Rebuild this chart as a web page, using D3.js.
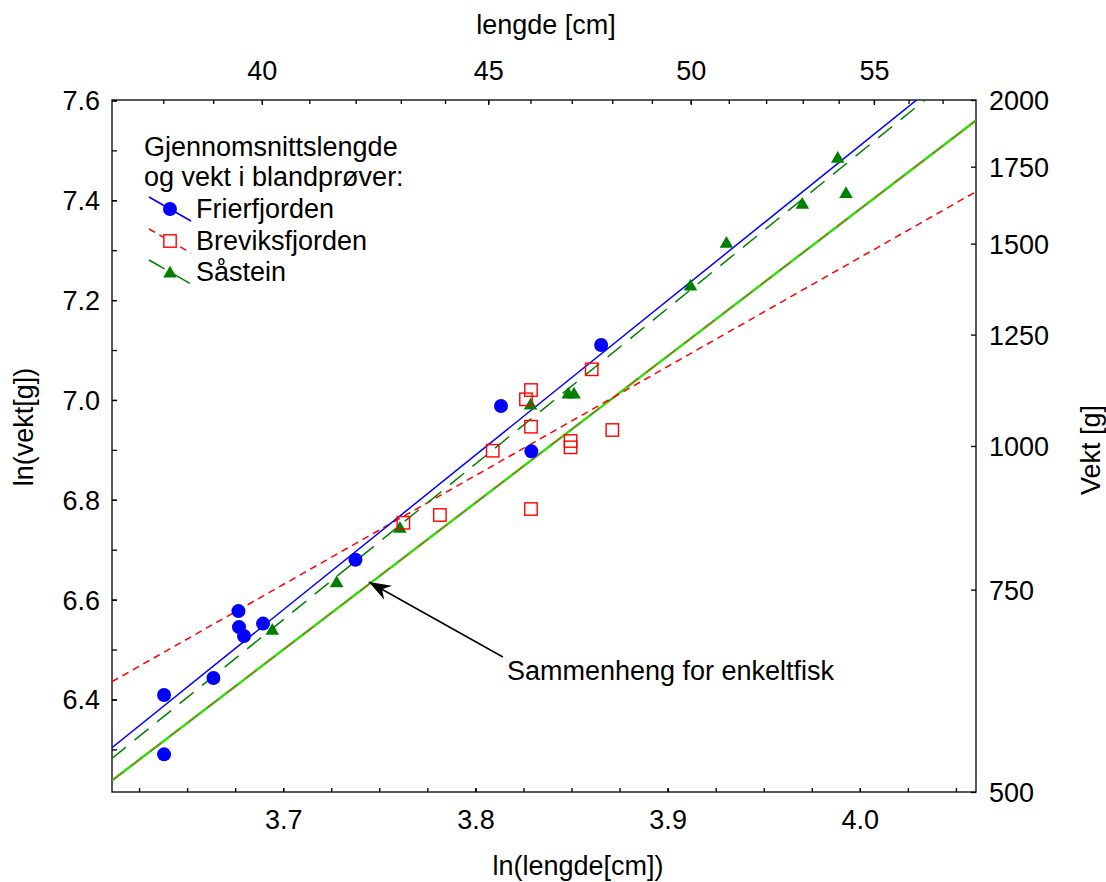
<!DOCTYPE html>
<html><head><meta charset="utf-8">
<script src="https://cdn.jsdelivr.net/npm/d3@7"></script>
<style>
body{margin:0;background:#fff;}
svg{display:block;font-family:"Liberation Sans",Arial,Helvetica,sans-serif;}
</style></head><body>
<svg id="chart" width="1106" height="882"></svg>
<script>
// ---- data (ln(length cm), ln(weight g)) ----
const frierLnL = [3.6380, 3.6380, 3.6637, 3.6767, 3.6770, 3.6796, 3.6895, 3.7376, 3.8133, 3.8291, 3.8654];
const frierLnW = [6.4090, 6.2900, 6.4430, 6.5770, 6.5450, 6.5270, 6.5520, 6.6800, 6.9880, 6.8970, 7.1100];
const brevLnL  = [3.7625, 3.7815, 3.8090, 3.8263, 3.8289, 3.8289, 3.8289, 3.8495, 3.8495, 3.8605, 3.8712];
const brevLnW  = [6.7540, 6.7695, 6.8983, 7.0013, 7.0199, 6.9464, 6.7815, 6.9178, 6.9051, 7.0614, 6.9398];
const saasLnL  = [3.6943, 3.7278, 3.7607, 3.8287, 3.8483, 3.8513, 3.9119, 3.9306, 3.9701, 3.9885, 3.9928];
const saasLnW  = [6.5405, 6.6359, 6.7449, 6.9919, 7.0139, 7.0139, 7.2303, 7.3158, 7.3939, 7.4861, 7.4152];
// fitted lines, evaluated at the two ends of the x range
const fitLnL    = [3.6109, 4.0604];
const frierFit  = [6.3033, 7.6966];
const brevFit   = [6.4356, 7.4172];
const saasFit   = [6.2819, 7.6838];
const singleFit = [6.2376, 7.5598];
// axis ticks
const bottomTicks  = [3.625,3.65,3.675,3.7,3.725,3.75,3.775,3.8,3.825,3.85,3.875,3.9,3.925,3.95,3.975,4.0,4.025,4.05];
const bottomLabels = [3.7,3.8,3.9,4.0];
const leftTicks    = [6.3,6.4,6.5,6.6,6.7,6.8,6.9,7.0,7.1,7.2,7.3,7.4,7.5,7.6];
const leftLabels   = [6.4,6.6,6.8,7.0,7.2,7.4,7.6];
const topTicks     = [38,39,40,41,42,43,44,45,46,47,48,49,50,51,52,53,54,55,56,57];
const topLabels    = [40,45,50,55];
const rightTicks   = [500,750,1000,1250,1500,1750,2000];
// annotation (data coordinates)
const arrowTip  = [3.7446, 6.6353];
const arrowTail = [3.8143, 6.4850];
const annoPos   = [3.8164, 6.4390];
const annoText  = "Sammenheng for enkeltfisk";

const L=112, R=976, T=100, B=792, FS=27;
const svg = d3.select("#chart");
const x = d3.scaleLinear().domain([Math.log(37), Math.log(58)]).range([L,R]);
const y = d3.scaleLinear().domain([Math.log(500), Math.log(2000)]).range([B,T]);
const xTop = d3.scaleLog().domain([37,58]).range([L,R]);
const yRight = d3.scaleLog().domain([500,2000]).range([B,T]);

function style(g){
  g.select(".domain").remove();
  g.selectAll("line").attr("stroke","#000").attr("stroke-width",1.3);
  g.selectAll("text").attr("font-size",FS).attr("fill","#000")
    .attr("font-family",'"Liberation Sans",Arial,Helvetica,sans-serif');
}
// bottom
svg.append("g").attr("transform",`translate(0,${B})`)
  .call(d3.axisBottom(x).tickValues(bottomTicks).tickSize(-4).tickFormat("")).call(style);
svg.append("g").attr("transform",`translate(0,${B})`)
  .call(d3.axisBottom(x).tickValues(bottomLabels).tickSize(-4).tickFormat(d3.format(".1f"))).call(style)
  .selectAll("text").attr("y",37).attr("dy",null);
// top
svg.append("g").attr("transform",`translate(0,${T})`)
  .call(d3.axisTop(xTop).tickValues(topTicks).tickSize(-4).tickFormat("")).call(style);
svg.append("g").attr("transform",`translate(0,${T})`)
  .call(d3.axisTop(xTop).tickValues(topLabels).tickSize(-5).tickFormat(d3.format("d"))).call(style)
  .selectAll("text").attr("y",-20).attr("dy",null);
// left
svg.append("g").attr("transform",`translate(${L},0)`)
  .call(d3.axisLeft(y).tickValues(leftTicks).tickSize(-5).tickFormat("")).call(style);
svg.append("g").attr("transform",`translate(${L},0)`)
  .call(d3.axisLeft(y).tickValues(leftLabels).tickSize(-5).tickFormat(d3.format(".1f"))).call(style)
  .selectAll("text").attr("x",-12).attr("dy","0.35em");
// right
svg.append("g").attr("transform",`translate(${R},0)`)
  .call(d3.axisRight(yRight).tickValues(rightTicks).tickSize(-5).tickFormat(d3.format("d"))).call(style)
  .selectAll("text").attr("x",13).attr("dy","0.35em");

// frame
svg.append("rect").attr("x",L).attr("y",T).attr("width",R-L).attr("height",B-T)
  .attr("fill","none").attr("stroke","#000").attr("stroke-width",1.3);

// axis titles
const tf = (sel)=>sel.attr("font-size",FS).attr("fill","#000");
tf(svg.append("text").attr("x",546).attr("y",34).attr("text-anchor","middle").text("lengde [cm]"));
tf(svg.append("text").attr("x",578).attr("y",875).attr("text-anchor","middle").text("ln(lengde[cm])"));
tf(svg.append("text").attr("transform","translate(33,427) rotate(-90)").attr("text-anchor","middle").text("ln(vekt[g])"));
tf(svg.append("text").attr("transform","translate(1100,450) rotate(-90)").attr("text-anchor","middle").text("Vekt [g]"));

// clip
svg.append("clipPath").attr("id","plotclip").append("rect")
  .attr("x",L).attr("y",T).attr("width",R-L).attr("height",B-T);
const plot = svg.append("g").attr("clip-path","url(#plotclip)");

const line = d3.line().x(d=>x(d[0])).y(d=>y(d[1]));
const pts = (xs,ys)=>xs.map((v,i)=>[v,ys[i]]);

plot.append("path").attr("d",line(pts(fitLnL,singleFit))).attr("fill","none")
  .attr("stroke","#2ee000").attr("stroke-width",2.4);
plot.append("path").attr("d",line(pts(fitLnL,singleFit))).attr("fill","none")
  .attr("stroke","#8b7a2e").attr("stroke-width",1.4).attr("stroke-dasharray","14,10");
plot.append("path").attr("d",line(pts(fitLnL,brevFit))).attr("fill","none")
  .attr("stroke","#ff0000").attr("stroke-width",1.5).attr("stroke-dasharray","7,5");
plot.append("path").attr("d",line(pts(fitLnL,saasFit))).attr("fill","none")
  .attr("stroke","#008000").attr("stroke-width",1.5).attr("stroke-dasharray","18,11");
plot.append("path").attr("d",line(pts(fitLnL,frierFit))).attr("fill","none")
  .attr("stroke","#0000ff").attr("stroke-width",1.5);

// markers
const tri = d3.symbol(d3.symbolTriangle, 80);
plot.selectAll("path.saas").data(pts(saasLnL,saasLnW)).join("path").attr("class","saas")
  .attr("d",tri).attr("fill","#008000")
  .attr("transform",d=>`translate(${x(d[0])},${y(d[1])+1.5})`);
plot.selectAll("rect.brev").data(pts(brevLnL,brevLnW)).join("rect").attr("class","brev")
  .attr("x",d=>x(d[0])-6.2).attr("y",d=>y(d[1])-6.2).attr("width",12.4).attr("height",12.4)
  .attr("fill","none").attr("stroke","#ff0000").attr("stroke-width",1.4);
plot.selectAll("circle.frier").data(pts(frierLnL,frierLnW)).join("circle").attr("class","frier")
  .attr("cx",d=>x(d[0])).attr("cy",d=>y(d[1])).attr("r",7).attr("fill","#0000ff");

// annotation arrow
svg.append("defs").append("marker").attr("id","arrowhead")
  .attr("viewBox","-23 -9 24 18").attr("refX",0).attr("refY",0)
  .attr("markerUnits","userSpaceOnUse").attr("markerWidth",24).attr("markerHeight",18)
  .attr("orient","auto")
  .append("path").attr("d","M0,0 L-22,-8 L-15,0 L-22,8 Z").attr("fill","#000");
svg.append("line").attr("x1",x(arrowTail[0])).attr("y1",y(arrowTail[1]))
  .attr("x2",x(arrowTip[0])).attr("y2",y(arrowTip[1]))
  .attr("stroke","#000").attr("stroke-width",1.5).attr("marker-end","url(#arrowhead)");
tf(svg.append("text").attr("x",x(annoPos[0])).attr("y",y(annoPos[1])).text(annoText));

// legend
const lg = svg.append("g");
tf(lg.append("text").attr("x",144).attr("y",156).text("Gjennomsnittslengde"));
tf(lg.append("text").attr("x",144).attr("y",186).text("og vekt i blandprøver:"));
const legendItems = [
  {name:"Frierfjorden", color:"#0000ff", dash:null, sym:"circle", cy:209},
  {name:"Breviksfjorden", color:"#ff0000", dash:"7,5", sym:"square", cy:241},
  {name:"Såstein", color:"#008000", dash:"18,11", sym:"triangle", cy:272}
];
legendItems.forEach(it=>{
  lg.append("line").attr("x1",149).attr("y1",it.cy-12).attr("x2",191).attr("y2",it.cy+12)
    .attr("stroke",it.color).attr("stroke-width",1.5).attr("stroke-dasharray",it.dash);
  if(it.sym==="circle") lg.append("circle").attr("cx",170).attr("cy",it.cy).attr("r",7).attr("fill",it.color);
  if(it.sym==="square") lg.append("rect").attr("x",170-6.2).attr("y",it.cy-6.2).attr("width",12.4).attr("height",12.4)
     .attr("fill","#fff").attr("stroke",it.color).attr("stroke-width",1.4);
  if(it.sym==="triangle") lg.append("path").attr("d",tri).attr("fill",it.color)
     .attr("transform",`translate(170,${it.cy+1.5})`);
  tf(lg.append("text").attr("x",196).attr("y",it.cy+9).text(it.name));
});
</script>
</body></html>
